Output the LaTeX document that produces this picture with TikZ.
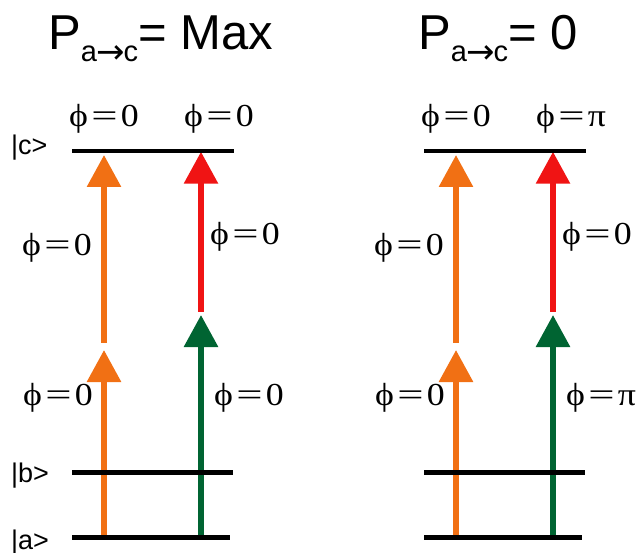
\documentclass[tikz,border=0pt]{standalone}
\usepackage{fontspec}
\setmainfont{Liberation Serif}
\newfontfamily\sansf{Liberation Sans}
\newfontfamily\arrowf{DejaVu Sans}
\usetikzlibrary{arrows.meta}
\definecolor{orangeA}{RGB}{241,112,20}
\definecolor{redA}{RGB}{240,20,20}
\definecolor{greenA}{RGB}{0,100,50}
\tikzset{
  levelline/.style={line width=4.5pt, black},
  beam/.style={line width=6pt, -{Triangle[length=32pt,width=33pt]}},
  phase/.style={font=\fontsize{32}{32}\selectfont, inner sep=0pt, anchor=base},
  ket/.style={font=\sansf\fontsize{27}{27}\selectfont, inner sep=0pt, anchor=base west},
  titletext/.style={font=\sansf\fontsize{49}{49}\selectfont, inner sep=0pt, anchor=base west},
}
\newcommand{\phlab}[1]{\scalebox{1.12}[1]{\char"03D5\kern3pt\scalebox{1.3}[1]{=}\kern3pt#1}}
\newcommand{\subtxt}[1]{\raisebox{-12pt}{\fontsize{29}{29}\selectfont #1}}
\newcommand{\subarrow}{\kern-1pt\raisebox{-2pt}{\arrowf\fontsize{34}{34}\selectfont →}\kern-1pt}
\begin{document}
\begin{tikzpicture}[x=1pt,y=-1pt]
\useasboundingbox (0,0) rectangle (637,553);
% titles
\node[titletext] (titleL) at (48,50) {P\subtxt{a\subarrow c}= Max};
\node[titletext] (titleR) at (418,50) {P\subtxt{a\subarrow c}= 0};
% kets
\node[ket] (ketc) at (11,155) {|c>};
\node[ket] (ketb) at (11,482) {|b>};
\node[ket] (keta) at (11,549) {|a>};
\foreach \dx/\s/\val in {0/L/0, 352/R/π}{
  \begin{scope}[xshift=\dx]
    % coordinates
    \coordinate (oLow\s) at (104,537.7);
    \coordinate (oLowTip\s) at (104,350);
    \coordinate (oUp\s) at (104,342.7);
    \coordinate (oUpTip\s) at (104,155);
    \coordinate (gLow\s) at (201,537.7);
    \coordinate (gTip\s) at (201,315);
    \coordinate (rLow\s) at (201,311.7);
    \coordinate (rTip\s) at (201,151.7);
    % beams
    \draw[beam, orangeA] (oLow\s) -- (oLowTip\s);
    \draw[beam, orangeA] (oUp\s) -- (oUpTip\s);
    \draw[beam, greenA] (gLow\s) -- (gTip\s);
    \draw[beam, redA] (rLow\s) -- (rTip\s);
    % levels
    \coordinate (cA\s) at (72,151); \coordinate (cB\s) at (234,151);
    \coordinate (bA\s) at (72,472.7); \coordinate (bB\s) at (233,472.7);
    \coordinate (aA\s) at (72,537.7); \coordinate (aB\s) at (230,537.7);
    \draw[levelline] (cA\s) -- (cB\s);
    \draw[levelline] (bA\s) -- (bB\s);
    \draw[levelline] (aA\s) -- (aB\s);
    % phase labels
    \node[phase] (pt1\s) at (104,127) {\phlab{0}};
    \node[phase] (pt2\s) at (219,127) {\phlab{\val}};
    \node[phase] (pm1\s) at (57,256) {\phlab{0}};
    \node[phase] (pm2\s) at (245,245) {\phlab{0}};
    \node[phase] (pl1\s) at (58,405) {\phlab{0}};
    \node[phase] (pl2\s) at (249,405) {\phlab{\val}};
  \end{scope}
}
\end{tikzpicture}
\end{document}
